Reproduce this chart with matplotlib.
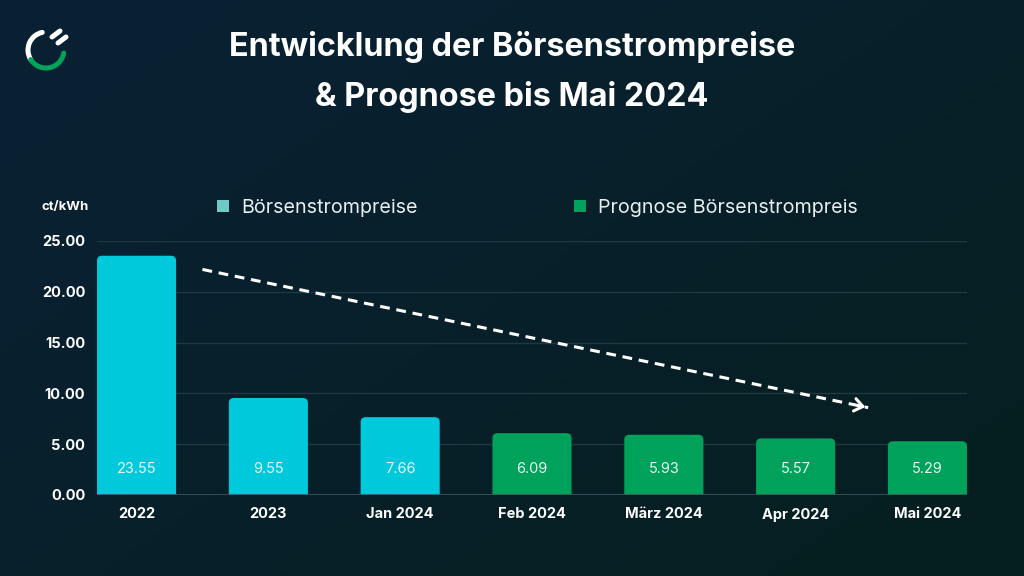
import numpy as np
import matplotlib
matplotlib.use("Agg")
import matplotlib.pyplot as plt
from matplotlib.patches import FancyBboxPatch, Patch, Arc

# data
categories = ["2022", "2023", "Jan 2024", "Feb 2024", "März 2024", "Apr 2024", "Mai 2024"]
prices = [23.55, 9.55, 7.66, 6.09, 5.93, 5.57, 5.29]
is_forecast = [False, False, False, True, True, True, True]
y_ticks = [0, 5, 10, 15, 20, 25]
# trend arrow (x in category positions, y in ct/kWh)
trend_start = (0.50, 22.2)
trend_end = (5.55, 8.6)

COL_ACTUAL = "#00c9db"
COL_FORECAST = "#00a15a"
LEG_ACTUAL = "#6fc9c6"
TXT = "#ffffff"

plt.rcParams["font.family"] = ["Inter", "DejaVu Sans"]

fig = plt.figure(figsize=(10.24, 5.76), dpi=100)

# background gradient, pixel coords with y going up
bg = fig.add_axes([0, 0, 1, 1])
gx, gy = np.meshgrid(np.linspace(0, 1, 256), np.linspace(0, 1, 144))
t = np.clip(0.55 * gx + 0.45 * gy, 0, 1)[..., None]
c0 = np.array([0x0a, 0x21, 0x35]) / 255
c1 = np.array([0x05, 0x1f, 0x1f]) / 255
bg.imshow(c0 * (1 - t) + c1 * t, extent=[0, 1024, 0, 576], origin="upper", aspect="auto")
bg.set_xlim(0, 1024)
bg.set_ylim(0, 576)
bg.axis("off")

# logo
H = 576
bg.add_patch(Arc((46, H - 50), 36, 36, theta1=102, theta2=212, color="white", lw=3.6, capstyle="round"))
bg.add_patch(Arc((46, H - 50), 36, 36, theta1=212, theta2=350, color="#00a35a", lw=3.6, capstyle="round"))
bg.plot([52, 60], [H - 37, H - 31], color="white", lw=3.6, solid_capstyle="round")
bg.plot([58, 66], [H - 43, H - 37], color="white", lw=3.6, solid_capstyle="round")

fig.text(0.5, 1 - 47 / 576, "Entwicklung der Börsenstrompreise", ha="center", va="center",
         color=TXT, fontsize=23.3, fontweight="bold")
fig.text(0.5, 1 - 97 / 576, "& Prognose bis Mai 2024", ha="center", va="center",
         color=TXT, fontsize=23.3, fontweight="bold")

ax = fig.add_axes([97 / 1024, 1 - 495 / 576, 870 / 1024, 254 / 576])
ax.set_facecolor("none")
x = np.arange(len(categories))
colors = [COL_FORECAST if f else COL_ACTUAL for f in is_forecast]
ax.set_xlim(-0.3, len(categories) - 0.7)
ax.set_ylim(0, 25)

for yv in y_ticks[1:]:
    ax.axhline(yv, color="#1d3942", lw=1, zorder=0)
ax.axhline(0, color="#3b5560", lw=1.2, zorder=3)

# bars with rounded top corners (bottom part is clipped by the axes)
bars = ax.bar(x, prices, width=0.6, color=colors, zorder=1)
fig.canvas.draw()
px_x = ax.transData.transform((1, 0))[0] - ax.transData.transform((0, 0))[0]
px_y = ax.transData.transform((0, 1))[1] - ax.transData.transform((0, 0))[1]
r = 5 / px_x
below = 8 / px_y
for b, c in zip(bars, colors):
    b.set_visible(False)
    rb = FancyBboxPatch((b.get_x(), -below), b.get_width(), b.get_height() + below,
                        boxstyle=f"round,pad=0,rounding_size={r}",
                        mutation_aspect=px_x / px_y, fc=c, ec="none", zorder=1)
    ax.add_patch(rb)

for xi, v in zip(x, prices):
    ax.text(xi, 2.6, f"{v:.2f}", ha="center", va="center", color="#e8f6f6", fontsize=10.5, zorder=4)

# trend arrow
ax.plot([trend_start[0], trend_end[0]], [trend_start[1], trend_end[1]], color="white",
        lw=2.2, dashes=(3.2, 2.2), zorder=5)
ax.annotate("", xy=trend_end, xytext=(trend_end[0] - 0.1, trend_end[1] + 0.27),
            arrowprops=dict(arrowstyle="->,head_length=0.6,head_width=0.45", color="white", lw=2.2),
            zorder=5)

ax.set_xticks(x)
ax.set_xticklabels(categories, fontsize=10.5, fontweight="bold", color=TXT)
ax.set_yticks(y_ticks)
ax.set_yticklabels([f"{v:.2f}" for v in y_ticks], fontsize=10.5, fontweight="bold", color=TXT)
ax.tick_params(length=0)
ax.tick_params(axis="y", pad=8.5)
ax.tick_params(axis="x", pad=9)
for s in ax.spines.values():
    s.set_visible(False)

fig.text(41 / 1024, 1 - 207 / 576, "ct/kWh", ha="left", va="center", color=TXT,
         fontsize=9.5, fontweight="bold")

handles = [Patch(fc=LEG_ACTUAL, ec="none"), Patch(fc=COL_FORECAST, ec="none")]
leg = fig.legend(handles, ["Börsenstrompreise", "Prognose Börsenstrompreis"], ncol=2,
                 loc="center left", bbox_to_anchor=(207 / 1024, 1 - 208 / 576), frameon=False,
                 fontsize=14.2, handlelength=0.62, handleheight=0.62, handletextpad=0.62,
                 columnspacing=7.9, borderpad=0)
for tx in leg.get_texts():
    tx.set_color("#e9eef0")

fig.savefig("out.png", dpi=100)
